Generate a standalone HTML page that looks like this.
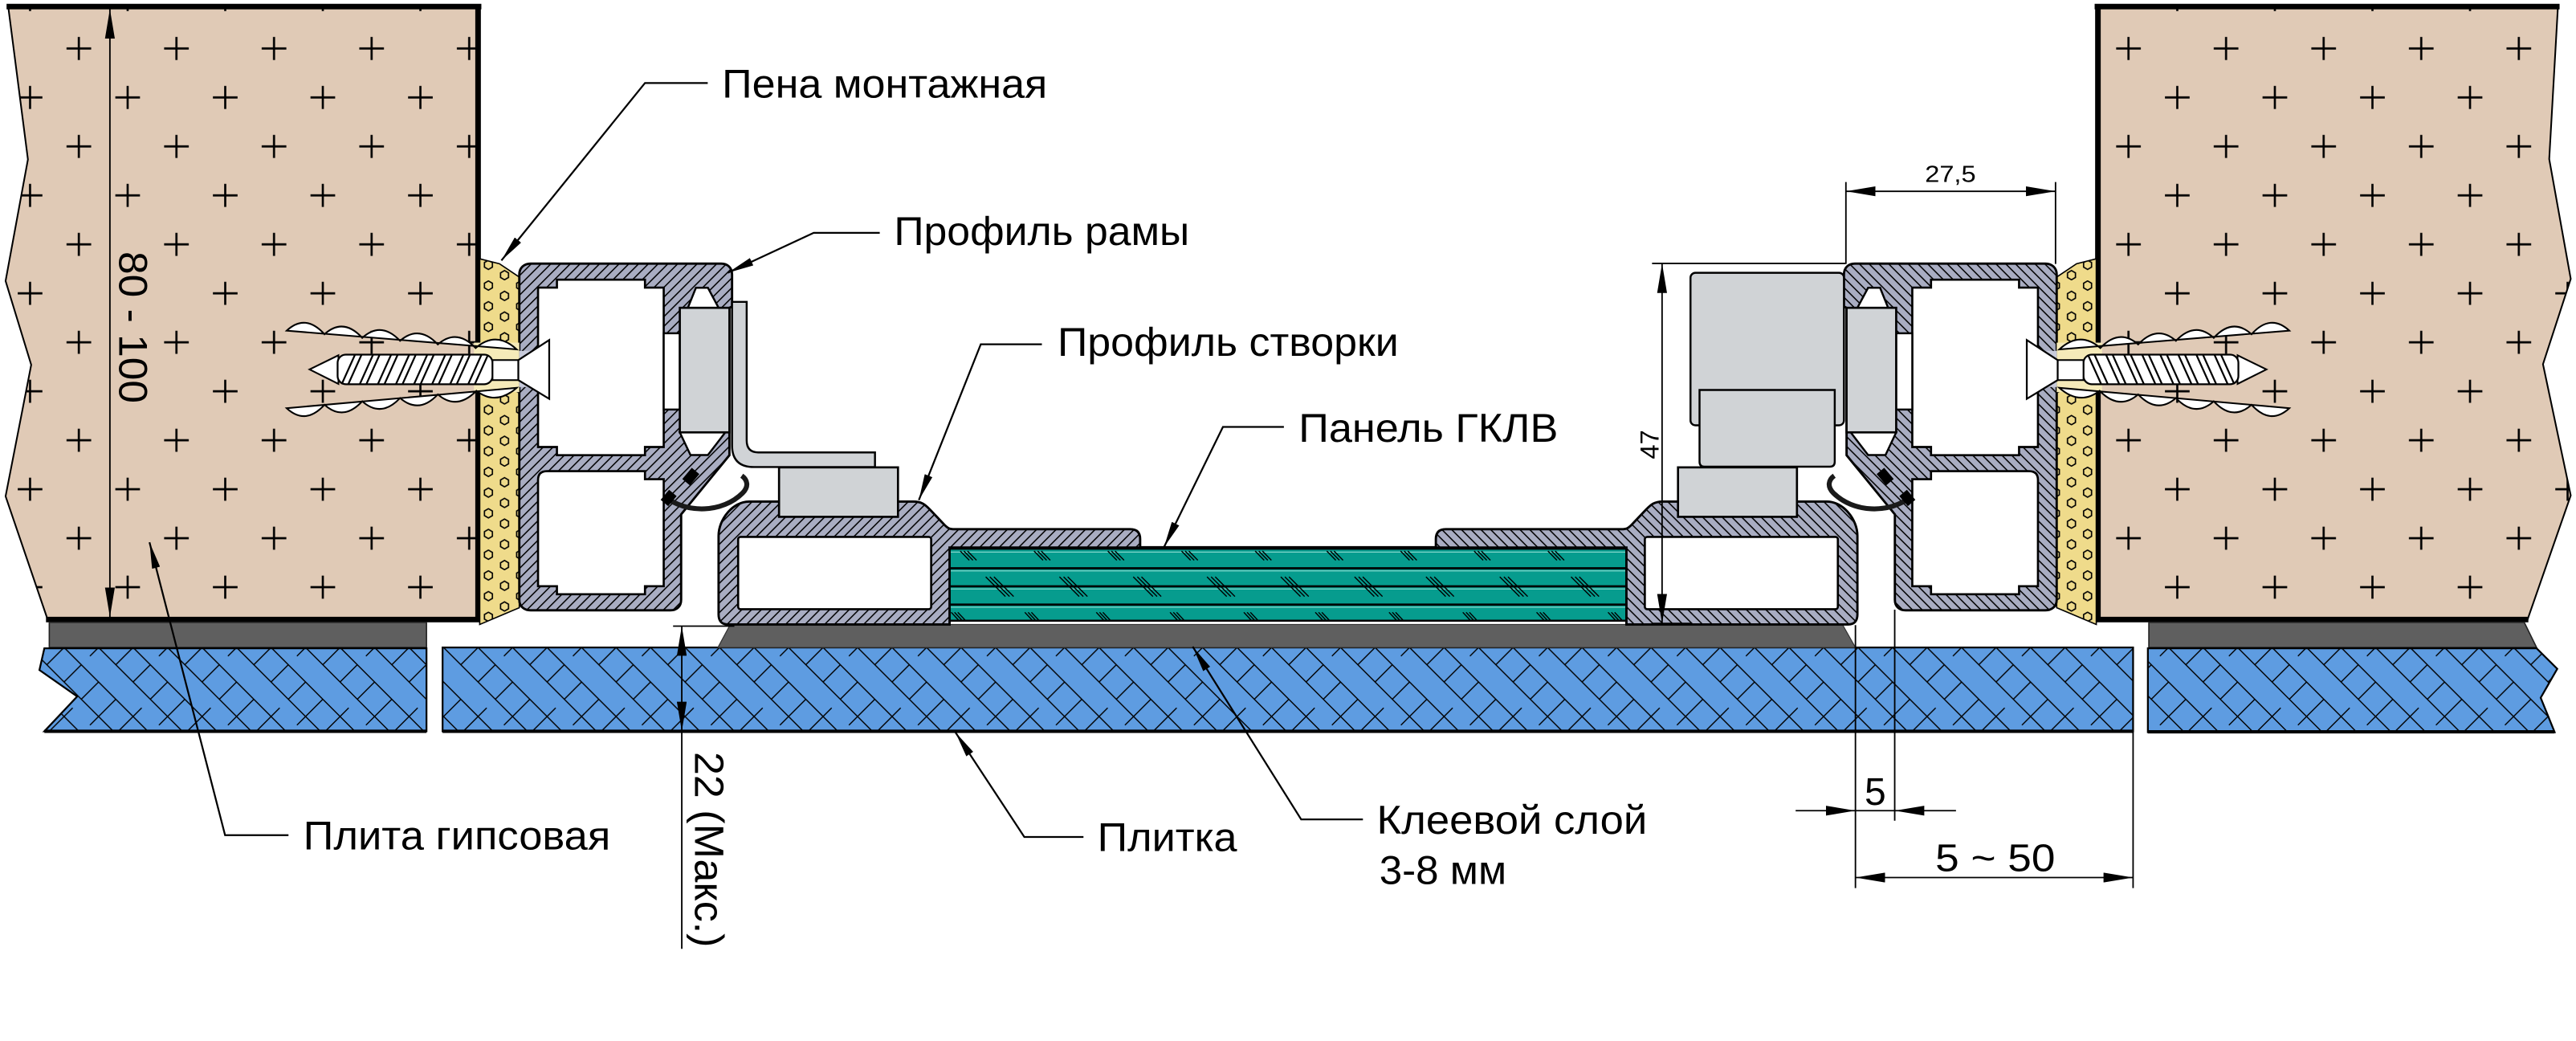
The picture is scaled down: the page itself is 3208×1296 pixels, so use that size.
<!DOCTYPE html>
<html><head><meta charset="utf-8"><style>html,body{margin:0;padding:0;background:#fff;}svg{display:block;}</style></head>
<body>
<svg xmlns="http://www.w3.org/2000/svg" xmlns:xlink="http://www.w3.org/1999/xlink" width="3208" height="1296" viewBox="0 0 1568 633.46" preserveAspectRatio="none">
<defs>
<pattern id="tile" patternUnits="userSpaceOnUse" x="270" y="394" width="42" height="42"><rect width="42" height="42" fill="#5e9ce1"/><path d="M-1,-1 L43,43 M20,-1 L43,22 M-1,20 L22,43 M21,0 L10.5,10.5 M31.5,10.5 L21,21 M10.5,31.5 L0,42 M42,21 L31.5,31.5 M42,0 L36.75,5.25 M26.25,36.75 L21,42" stroke="#000" stroke-width="0.7" fill="none"/></pattern>
<pattern id="ph" patternUnits="userSpaceOnUse" width="4.2" height="4.2" patternTransform="rotate(45)"><rect width="4.2" height="4.2" fill="#a9adc2"/><line x1="2" y1="-1" x2="2" y2="5.2" stroke="#000" stroke-width="0.75"/></pattern>
<pattern id="hex" patternUnits="userSpaceOnUse" x="292.4" y="158" width="19.6" height="12.6"><path d="M4.9,0.35 L7.32,1.75 L7.32,4.55 L4.9,5.95 L2.48,4.55 L2.48,1.75 Z M14.7,6.65 L17.12,8.05 L17.12,10.85 L14.7,12.25 L12.28,10.85 L12.28,8.05 Z" fill="none" stroke="#000" stroke-width="0.8"/></pattern>
<pattern id="crL" patternUnits="userSpaceOnUse" x="33.15" y="14.6" width="59.4" height="59.6"><path d="M7.35,14.9 H22.35 M14.85,7.9 V21.9 M37.05,44.7 H52.05 M44.55,37.7 V51.7" stroke="#000" stroke-width="1.3"/></pattern>
<pattern id="crR" patternUnits="userSpaceOnUse" x="1280.75" y="14.6" width="59.4" height="59.6"><path d="M7.35,14.9 H22.35 M14.85,7.9 V21.9 M37.05,44.7 H52.05 M44.55,37.7 V51.7" stroke="#000" stroke-width="1.3"/></pattern>
<marker id="ar" viewBox="0 0 18 6" refX="18" refY="3" markerWidth="18" markerHeight="6" markerUnits="userSpaceOnUse" orient="auto-start-reverse"><path d="M0,0 L18,3 L0,6 Z" fill="#000" stroke="none"/></marker>
<marker id="al" viewBox="0 0 16 5" refX="16" refY="2.5" markerWidth="16" markerHeight="5" markerUnits="userSpaceOnUse" orient="auto"><path d="M0,0 L16,2.5 L0,5 Z" fill="#000" stroke="none"/></marker>
<g id="k1"><path d="M0,0 L5.5,5.6 M2.2,0 L7.7,5.6 M4.4,0 L9.9,5.6" stroke="#000" stroke-width="0.7" fill="none"/></g>
<g id="k2"><path d="M0,0 L12,12 M2.5,0 L14.5,12 M5,0 L17,12" stroke="#000" stroke-width="0.7" fill="none"/></g>
<g id="k3"><path d="M0,0 L4.5,4.8 M2,0 L6.5,4.8 M4,0 L8.5,4.8" stroke="#000" stroke-width="0.7" fill="none"/></g>

<g id="F">
 <path d="M292,157.5 L304,160.5 L316.1,168.6 L316.1,369.8 L292,380 Z" fill="#efdb8b" stroke="#000" stroke-width="0.8"/>
 <path d="M292,157.5 L304,160.5 L316.1,168.6 L316.1,369.8 L292,380 Z" fill="url(#hex)"/>
 <path d="M316.1,167 C316.1,163 319,160.4 323,160.4 L439,160.4 C443,160.4 445.6,163 445.6,167 L445.6,186.5 L444,187.3 L444,277 L418.7,308 L414.6,313 L414.6,365 C414.6,369 412,371.4 408,371.4 L323,371.4 C319,371.4 316.1,369 316.1,365 Z" fill="url(#ph)" stroke="#000" stroke-width="1.4"/>
 <path d="M327.5,175 H339 V170.2 H392.6 V175 H404 V272 H392.6 V277 H339 V272 H327.5 Z" fill="#fff" stroke="#000" stroke-width="1.3"/>
 <path d="M333,286.7 H392.6 V291.6 H404 V356.7 H392.6 V361.6 H339 V356.7 H327.5 V292 Q327.5,286.7 333,286.7 Z" fill="#fff" stroke="#000" stroke-width="1.3"/>
 <rect x="404" y="202.8" width="9.8" height="46.4" fill="#fff" stroke="#000" stroke-width="1.2"/>
 <path d="M418.7,187.3 L423.6,175.1 L430.9,175.1 L437.4,187.3 Z" fill="#fff" stroke="#000" stroke-width="1.2"/>
 <path d="M413.8,263.1 L441.5,263.1 L430.9,276.9 L420.3,276.9 Z" fill="#fff" stroke="#000" stroke-width="1.2"/>
 <rect x="413.8" y="187.3" width="30.2" height="75.8" fill="#d0d3d6" stroke="#000" stroke-width="1.3"/>
 <rect x="288.5" y="208.5" width="27.6" height="30.1" fill="#f5eab9"/>
 <rect x="316.1" y="213.5" width="11.4" height="22" fill="#c8cbdb"/>
 <path d="M174.5,201.2 Q186,190.6 197.5,203.4 Q209,193 220.5,205.6 Q232,195.2 243.5,207.4 Q255,197.4 266.5,209.6 Q278,199.6 289.5,211.8 Q302,201 314.5,212.6 Z" fill="#fff" stroke="#000" stroke-width="1"/>
 <path d="M174.5,248.4 Q186,259 197.5,246.3 Q209,256.6 220.5,244.2 Q232,254.4 243.5,242.2 Q255,252.2 266.5,240 Q278,250 290,237.8 Q302,247 314.5,236 Z" fill="#fff" stroke="#000" stroke-width="1"/>
 <path d="M188.4,224.8 L206,216.2 L206,233.6 Z" fill="#fff" stroke="#000" stroke-width="1"/>
 <rect x="205.5" y="215.8" width="94.3" height="18" rx="5" fill="#fff" stroke="#000" stroke-width="1.1"/>
 <path d="M208,233.8 L216,216 M212,233.8 L220,216 M219,233.8 L227,216 M223,233.8 L231,216 M230,233.8 L238,216 M234,233.8 L242,216 M241,233.8 L249,216 M245,233.8 L253,216 M252,233.8 L260,216 M256,233.8 L264,216 M263,233.8 L271,216 M267,233.8 L275,216 M274,233.8 L282,216 M278,233.8 L286,216 M285,233.8 L293,216 M289,233.8 L297,216" stroke="#000" stroke-width="1.1"/>
 <rect x="299.8" y="219.1" width="20" height="12.2" fill="#fff" stroke="#000" stroke-width="1"/>
 <path d="M315.5,219.1 L334.3,206.9 L334.3,242.7 L315.5,231.3 Z" fill="#fff" stroke="#000" stroke-width="1.1"/>
 <path d="M437.4,374 L437.4,326 C437.4,316 446,305.2 456,305.2 L556,305.2 C561,305.2 563,307 566,310 L575,319.5 C577,321.5 578,322 581,322 L688,322 C692,322 694,324 694,328 L694,333.2 L578,333.2 L578,380 L443,380 C439.5,380 437.4,378 437.4,374 Z" fill="url(#ph)" stroke="#000" stroke-width="1.4"/>
 <rect x="449.3" y="326.7" width="117.5" height="44" rx="1.5" fill="#fff" stroke="#000" stroke-width="1.3"/>
 <rect x="474.2" y="284.4" width="72.4" height="30.1" fill="#d0d3d6" stroke="#000" stroke-width="1.3"/>
 <path d="M404.5,302 C418,313 440,312 452,300 C456,296 455,292 451.5,289.5" fill="none" stroke="#1a1a1a" stroke-width="3"/>
 <rect x="416" y="287" width="9" height="6" transform="rotate(-50 420.5 290)" fill="#000"/>
 <rect x="403" y="300" width="8" height="6" transform="rotate(-50 407 303)" fill="#000"/>
</g>
</defs>

<!-- walls -->
<path d="M5,4 L291,4 L291,377 L29,377 L3.4,302 L19,222 L3.4,171 L17,97 Z" fill="#e0cab6" stroke="#000" stroke-width="1"/>
<path d="M5,4 L291,4 L291,377 L29,377 L3.4,302 L19,222 L3.4,171 L17,97 Z" fill="url(#crL)"/>
<rect x="69.5" y="148" width="24" height="101" fill="#e0cab6"/>
<path d="M4,4 H293 M291,4 V378.5 M28,377 H293" stroke="#000" stroke-width="3.4" fill="none"/>
<path d="M1277,4 L1557,4 L1551.7,96.8 L1564.8,169.7 L1547.9,221.6 L1564.8,301.5 L1538.5,377 L1277,377 Z" fill="#e0cab6" stroke="#000" stroke-width="1"/>
<path d="M1277,4 L1557,4 L1551.7,96.8 L1564.8,169.7 L1547.9,221.6 L1564.8,301.5 L1538.5,377 L1277,377 Z" fill="url(#crR)"/>
<path d="M1275,4 H1558 M1277,4 V378.5 M1275,377 H1539" stroke="#000" stroke-width="3.4" fill="none"/>

<!-- dark strips -->
<path d="M30,378.7 H259.6 V394 H30 Z" fill="#5f5f5f" stroke="#222" stroke-width="0.8"/>
<path d="M1308,378.7 H1536.5 L1544,394 H1308 Z" fill="#5f5f5f" stroke="#222" stroke-width="0.8"/>

<!-- tiles -->
<path d="M27,394.5 H259.6 V445 H27 L47,423.8 L24,407.7 Z" fill="url(#tile)" stroke="#000" stroke-width="1.1"/>
<rect x="269.4" y="394" width="1029" height="51" fill="url(#tile)" stroke="#000" stroke-width="1.1"/>
<path d="M1307.4,394.5 H1544 L1556.6,407 L1546.5,424.6 L1555,445.5 H1307.4 Z" fill="url(#tile)" stroke="#000" stroke-width="1.1"/>
<path d="M27,445 H259.6 M269.4,445 H1298.4 M1307.4,445.3 H1555" stroke="#000" stroke-width="2"/>

<!-- adhesive -->
<path d="M437,394 L444.5,380 H1121.5 L1129.4,394 Z" fill="#5f5f5f" stroke="#333" stroke-width="0.6"/>

<!-- panel -->
<rect x="577.5" y="333.2" width="412.5" height="44.5" fill="#069c8e" stroke="#000" stroke-width="1.2"/>
<path d="M578,336 H989.5 M578,347.4 H989.5 M578,358.4 H989.5 M578,369.5 H989.5" stroke="#7fd3c8" stroke-width="0.6"/>
<path d="M577.5,345.8 H990 M577.5,356.8 H990 M577.5,367.9 H990" stroke="#000" stroke-width="1.3"/>
<line x1="577.5" y1="333.4" x2="990" y2="333.4" stroke="#000" stroke-width="2.2"/>
<use href="#k1" x="584.5" y="335.3"/><use href="#k1" x="629.4" y="335.3"/><use href="#k1" x="674.3" y="335.3"/><use href="#k1" x="719.2" y="335.3"/><use href="#k1" x="764" y="335.3"/><use href="#k1" x="807.6" y="335.3"/><use href="#k1" x="852.5" y="335.3"/><use href="#k1" x="897.3" y="335.3"/><use href="#k1" x="942.2" y="335.3"/>
<use href="#k2" x="600" y="351"/><use href="#k2" x="644.9" y="351"/><use href="#k2" x="689.8" y="351"/><use href="#k2" x="734.7" y="351"/><use href="#k2" x="779.6" y="351"/><use href="#k2" x="824.5" y="351"/><use href="#k2" x="868" y="351"/><use href="#k2" x="912.9" y="351"/><use href="#k2" x="956.3" y="351"/>
<use href="#k3" x="579" y="372.6"/><use href="#k3" x="623.8" y="372.6"/><use href="#k3" x="667.3" y="372.6"/><use href="#k3" x="712.2" y="372.6"/><use href="#k3" x="757.1" y="372.6"/><use href="#k3" x="800.6" y="372.6"/><use href="#k3" x="845.5" y="372.6"/><use href="#k3" x="890.4" y="372.6"/><use href="#k3" x="935.3" y="372.6"/><use href="#k3" x="978.8" y="372.6"/>

<!-- frames (left + mirrored right) -->
<use href="#F"/>
<use href="#F" transform="matrix(-1,0,0,1,1568,0)"/>

<!-- L bracket (left) -->
<path d="M445.6,183.7 L454.5,183.7 L454.5,268 Q454.5,275.3 461.5,275.3 L532.6,275.3 L532.6,284.2 L459,284.2 Q445.6,284.2 445.6,271 Z" fill="#d0d3d6" stroke="#000" stroke-width="1.2"/>
<!-- hinge block (right) -->
<rect x="1029" y="166" width="93.4" height="92.8" rx="3" fill="#d0d3d6" stroke="#000" stroke-width="1.2"/>
<path d="M1034.5,237.3 L1116.8,237.3 L1116.8,281 Q1116.8,284 1113.8,284 L1037.5,284 Q1034.5,284 1034.5,281 Z" fill="#d0d3d6" stroke="#000" stroke-width="1.2"/>

<!-- dimensions -->
<g stroke="#000" stroke-width="0.9" fill="none">
<line x1="66.9" y1="5.5" x2="66.9" y2="375.5" marker-start="url(#ar)" marker-end="url(#ar)"/>
<line x1="415" y1="381" x2="415" y2="445" marker-start="url(#ar)" marker-end="url(#ar)"/>
<line x1="415" y1="445" x2="415" y2="577.4"/>
<line x1="409.7" y1="381" x2="447" y2="381"/>
<line x1="1011.7" y1="160.3" x2="1011.7" y2="379.4" marker-start="url(#ar)" marker-end="url(#ar)"/>
<line x1="1005.6" y1="160.3" x2="1123.4" y2="160.3"/>
<line x1="1005.6" y1="379.4" x2="1030" y2="379.4"/>
<line x1="1123.6" y1="116.4" x2="1251.2" y2="116.4" marker-start="url(#ar)" marker-end="url(#ar)"/>
<line x1="1123.6" y1="110.8" x2="1123.6" y2="160.6"/>
<line x1="1251.2" y1="110.8" x2="1251.2" y2="160.6"/>
<line x1="1129.4" y1="380.4" x2="1129.4" y2="540.4"/>
<line x1="1153.3" y1="371" x2="1153.3" y2="499.4"/>
<line x1="1298.4" y1="445" x2="1298.4" y2="540.4"/>
<line x1="1129.4" y1="534" x2="1298.4" y2="534" marker-start="url(#ar)" marker-end="url(#ar)"/>
<line x1="1093" y1="493.3" x2="1129.4" y2="493.3" marker-end="url(#ar)"/>
<line x1="1190.6" y1="493.3" x2="1153.3" y2="493.3" marker-end="url(#ar)"/>
<line x1="1129.4" y1="493.3" x2="1153.3" y2="493.3"/>
</g>

<!-- leaders -->
<g stroke="#000" stroke-width="1.1" fill="none">
<polyline points="430.8,50.5 392.6,50.5 305.2,158.5" marker-end="url(#al)"/>
<polyline points="535.5,141.7 495.3,141.7 443,166" marker-end="url(#al)"/>
<polyline points="634.2,209.5 597,209.5 559.3,304.3" marker-end="url(#al)"/>
<polyline points="781.5,259.8 744.4,259.8 708.5,333" marker-end="url(#al)"/>
<polyline points="175.6,508.2 137,508.2 91,330" marker-end="url(#al)"/>
<polyline points="659.5,509.3 623.5,509.3 581.5,445.5" marker-end="url(#al)"/>
<polyline points="829.6,498.6 792,498.6 726,393.5" marker-end="url(#al)"/>
</g>

<!-- text -->
<g font-family="'Liberation Sans', 'DejaVu Sans', sans-serif" fill="#000">
<text x="439.5" y="59.4" font-size="24.5" textLength="198" lengthAdjust="spacingAndGlyphs">Пена монтажная</text>
<text x="544.2" y="149" font-size="24.5" textLength="179.8" lengthAdjust="spacingAndGlyphs">Профиль рамы</text>
<text x="643.7" y="216.6" font-size="24.5" textLength="207.6" lengthAdjust="spacingAndGlyphs">Профиль створки</text>
<text x="790.5" y="268.8" font-size="24.5" textLength="157.9" lengthAdjust="spacingAndGlyphs">Панель ГКЛВ</text>
<text x="184.6" y="517" font-size="24.5" textLength="187" lengthAdjust="spacingAndGlyphs">Плита гипсовая</text>
<text x="668" y="517.9" font-size="24.5" textLength="85" lengthAdjust="spacingAndGlyphs">Плитка</text>
<text x="838" y="507.4" font-size="24.5" textLength="164.6" lengthAdjust="spacingAndGlyphs">Клеевой слой</text>
<text x="839.6" y="538" font-size="24.5" textLength="77.4" lengthAdjust="spacingAndGlyphs">3-8 мм</text>
<text x="1178" y="530" font-size="23.5" textLength="73" lengthAdjust="spacingAndGlyphs">5 ~ 50</text>
<text x="1141.5" y="489.7" font-size="23.5" text-anchor="middle">5</text>
<text x="1187.2" y="110.8" font-size="14" text-anchor="middle" textLength="31" lengthAdjust="spacingAndGlyphs">27,5</text>
<text transform="translate(1009.5,270.5) rotate(-90)" font-size="16" text-anchor="middle">47</text>
<text transform="translate(72.5,199.2) rotate(90)" font-size="24.5" text-anchor="middle" textLength="92.4" lengthAdjust="spacingAndGlyphs">80 - 100</text>
<text transform="translate(423,517) rotate(90)" font-size="25" text-anchor="middle" textLength="119" lengthAdjust="spacingAndGlyphs">22 (Макс.)</text>
</g>
</svg>
</body></html>
